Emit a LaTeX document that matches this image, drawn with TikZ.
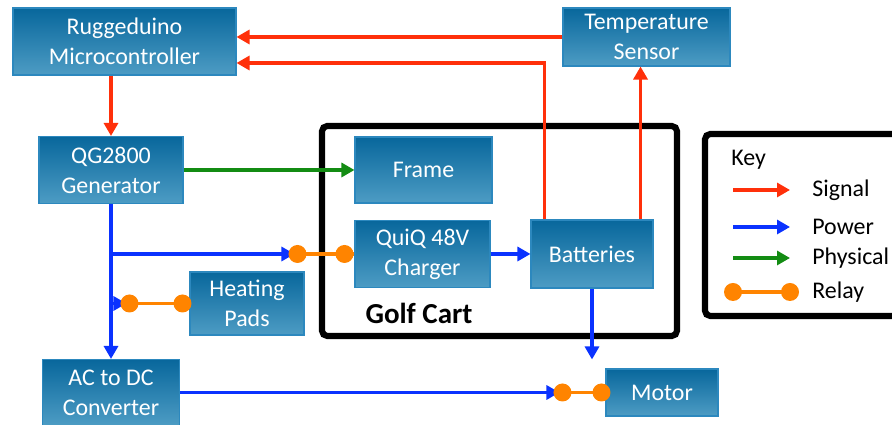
\documentclass[tikz,border=0pt]{standalone}
\usepackage{fontspec}
\setmainfont{Carlito}
\usetikzlibrary{arrows.meta,positioning}
\definecolor{gcred}{HTML}{FF300A}
\definecolor{gcblue}{HTML}{0A32FF}
\definecolor{gcgreen}{HTML}{138C13}
\definecolor{gcorange}{HTML}{FF8400}
\definecolor{gcboxtop}{HTML}{08679C}
\definecolor{gcboxbot}{HTML}{4D9CC4}
\definecolor{gcedge}{HTML}{2C88BE}

\begin{document}
\begin{tikzpicture}[
  block/.style={draw=gcedge, line width=0.6pt, top color=gcboxtop,
                bottom color=gcboxbot, text=white, align=center,
                font=\fontsize{13.6}{17}\selectfont, inner sep=1pt},
  frameline/.style={draw=black, line width=3.5pt, rounded corners=3pt},
  signal/.style={-{Triangle[length=2.6mm,width=2.8mm]}, line width=1.8pt, draw=gcred},
  power/.style={signal, draw=gcblue},
  physical/.style={signal, draw=gcgreen},
  relayline/.style={line width=2pt, draw=gcorange},
  relaydot/.style={fill=gcorange},
  keytext/.style={anchor=west, inner sep=0pt, font=\fontsize{13.6}{16}\selectfont},
]
  \useasboundingbox (0,0) rectangle (17.84,8.5);

  % Golf cart outline and key box.
  \node[frameline, minimum width=71mm, minimum height=42mm] (cart) at (9.99,3.88) {};
  \node[font=\fontsize{16.5}{19}\selectfont\bfseries] (cartlabel) at (8.38,2.24) {Golf Cart};
  \node[frameline, minimum width=42mm, minimum height=36.4mm] (keybox) at (16.2,4.0) {};

  % Components.
  \node[block, minimum width=44.6mm, minimum height=13.4mm] (rugg) at (2.49,7.67) {Ruggeduino\\Microcontroller};
  \node[block, minimum width=33.4mm, minimum height=11.6mm] (temp) at (12.93,7.76) {Temperature\\Sensor};
  \node[block, minimum width=28.8mm, minimum height=13.4mm] (gen) at (2.22,5.1) {QG2800\\Generator};
  \node[block, minimum width=27.4mm, minimum height=13.2mm] (frame) at (8.47,5.1) {Frame};
  \node[block, minimum width=27mm, minimum height=13.4mm] (charger) at (8.45,3.42) {QuiQ 48V\\Charger};
  \node[block, minimum width=24.4mm, minimum height=13.6mm] (batt) at (11.84,3.42) {Batteries};
  \node[block, minimum width=22.8mm, minimum height=12.6mm] (heat) at (4.94,2.43) {Heating\\Pads};
  \node[block, minimum width=27.4mm, minimum height=13.2mm] (conv) at (2.22,0.65) {AC to DC\\Converter};
  \node[block, minimum width=22.4mm, minimum height=9.4mm] (motor) at (13.24,0.65) {Motor};

  % Signal lines.
  \draw[signal] (temp.west) -- (temp.west -| rugg.east);
  \draw[signal] ([xshift=2.8mm]batt.north west) |- ([yshift=-4.3mm]rugg.east);
  \draw[signal] ([xshift=-2.6mm]batt.north east) -- ([xshift=-2.6mm]batt.north east |- temp.south);
  \draw[signal] (gen.north |- rugg.south) -- (gen.north);

  % Physical link.
  \draw[physical] (gen.east) -- (frame.west);

  % Power lines and relays.
  \coordinate (chgA) at ([xshift=-11.4mm]charger.west);
  \coordinate (chgB) at ([xshift=-2mm]charger.west);
  \coordinate (heatA) at ([xshift=-12mm]heat.west);
  \coordinate (heatB) at ([xshift=-1.4mm]heat.west);
  \coordinate (motA) at ([xshift=-8.6mm]motor.west);
  \coordinate (motB) at ([xshift=-0.8mm]motor.west);
  \coordinate (battend) at ([yshift=1.8mm]batt.south |- motor.north);

  \draw[power] (gen.south) -- (conv.north);
  \draw[power] (gen.south |- chgA) -- ([xshift=-0.6mm]chgA);
  \draw[power] (gen.south |- heatA) -- ([xshift=-0.6mm]heatA);
  \draw[power] (conv.east |- motA) -- ([xshift=-0.6mm]motA);
  \draw[power] (charger.east) -- (batt.west);
  \draw[power] (batt.south) -- (battend);

  \draw[relayline] (chgA) -- (charger.west);
  \fill[relaydot] (chgA) circle (1.8mm) (chgB) circle (1.8mm);
  \draw[relayline] (heatA) -- (heat.west);
  \fill[relaydot] (heatA) circle (1.8mm) (heatB) circle (1.8mm);
  \draw[relayline] (motA) -- (motor.west);
  \fill[relaydot] (motA) circle (1.8mm) (motB) circle (1.8mm);

  % Key.
  \node[keytext] (keytitle) at (14.62,5.3) {Key};
  \node[keytext] (ksignal) at (16.24,4.7) {Signal};
  \node[keytext] (kpower) at (16.24,3.96) {Power};
  \node[keytext] (kphysical) at (16.24,3.34) {Physical};
  \node[keytext] (krelay) at (16.24,2.66) {Relay};
  \draw[signal] ([xshift=-15.8mm]ksignal.west) -- ([xshift=-4.4mm]ksignal.west);
  \draw[power] ([xshift=-15.8mm]kpower.west) -- ([xshift=-4.4mm]kpower.west);
  \draw[physical] ([xshift=-15.8mm]kphysical.west) -- ([xshift=-4.4mm]kphysical.west);
  \draw[relayline] ([xshift=-15.8mm]krelay.west) -- ([xshift=-4.4mm]krelay.west);
  \fill[relaydot] ([xshift=-15.8mm]krelay.west) circle (1.8mm) ([xshift=-4.4mm]krelay.west) circle (1.8mm);

\end{tikzpicture}
\end{document}
